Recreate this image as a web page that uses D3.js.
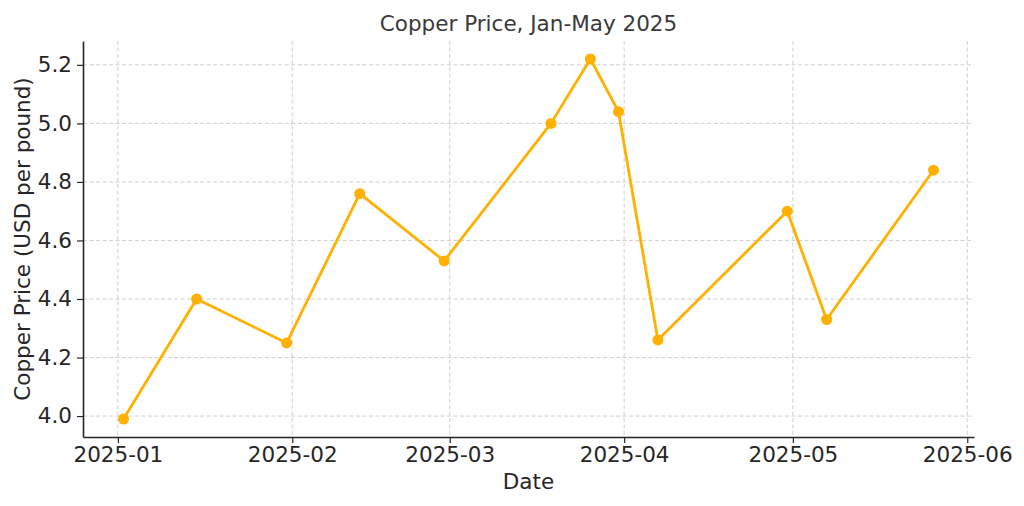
<!DOCTYPE html>
<html>
<head>
<meta charset="utf-8">
<script src="https://cdn.jsdelivr.net/npm/d3@7"></script>
<style>
  html, body { margin: 0; padding: 0; background: #fff; }
  svg { display: block; font-family: "DejaVu Sans", sans-serif; }
</style>
</head>
<body>
<div id="chart"></div>
<script>
// The data
var dates = ["2025-01-02", "2025-01-15", "2025-01-31", "2025-02-13", "2025-02-28", "2025-03-19",
             "2025-03-26", "2025-03-31", "2025-04-07", "2025-04-30", "2025-05-07", "2025-05-26"];
var prices = [3.99, 4.40, 4.25, 4.76, 4.53, 5.00, 5.22, 5.04, 4.26, 4.70, 4.33, 4.84];
var yTicks = [4.0, 4.2, 4.4, 4.6, 4.8, 5.0, 5.2];

var titleText = "Copper Price, Jan-May 2025";
var xLabelText = "Date";
var yLabelText = "Copper Price (USD per pound)";

// Chart size and margins
var width = 1024;
var height = 506;
var margin = { top: 41, right: 50, bottom: 69, left: 83 };
var innerWidth = width - margin.left - margin.right;
var innerHeight = height - margin.top - margin.bottom;

var lineColor = "#ffb000";
var textColor = "#262626";

var parseDate = d3.utcParse("%Y-%m-%d");
var points = dates.map(function (d, i) { return { date: parseDate(d), price: prices[i] }; });

// Domains padded by 5% like the original plot
var xExtent = d3.extent(points, d => d.date);
var xPad = (xExtent[1] - xExtent[0]) * 0.05;
var yExtent = d3.extent(points, d => d.price);
var yPad = (yExtent[1] - yExtent[0]) * 0.05;

var x = d3.scaleUtc()
  .domain([new Date(+xExtent[0] - xPad), new Date(+xExtent[1] + xPad)])
  .range([0, innerWidth]);

var y = d3.scaleLinear()
  .domain([yExtent[0] - yPad, yExtent[1] + yPad])
  .range([innerHeight, 0]);

var svg = d3.select("#chart")
  .append("svg")
  .attr("width", width)
  .attr("height", height);

var g = svg.append("g")
  .attr("transform", `translate(${margin.left}, ${margin.top})`);

var monthTicks = d3.utcMonth.range(d3.utcMonth.ceil(x.domain()[0]), x.domain()[1]);

// Grid lines
g.append("g")
  .selectAll("line")
  .data(monthTicks)
  .join("line")
  .attr("x1", d => x(d)).attr("x2", d => x(d))
  .attr("y1", 0).attr("y2", innerHeight)
  .attr("stroke", "#cfcfcf")
  .attr("stroke-width", 1)
  .attr("stroke-dasharray", "4,2.5");

g.append("g")
  .selectAll("line")
  .data(yTicks)
  .join("line")
  .attr("x1", 0).attr("x2", innerWidth)
  .attr("y1", d => y(d)).attr("y2", d => y(d))
  .attr("stroke", "#cfcfcf")
  .attr("stroke-width", 1)
  .attr("stroke-dasharray", "4,2.5");

// Axes
var xAxis = g.append("g")
  .attr("transform", `translate(0, ${innerHeight})`)
  .call(d3.axisBottom(x)
    .tickValues(monthTicks)
    .tickFormat(d3.utcFormat("%Y-%m"))
    .tickSize(6)
    .tickPadding(4)
    .tickSizeOuter(0));

var yAxis = g.append("g")
  .call(d3.axisLeft(y)
    .tickValues(yTicks)
    .tickFormat(d3.format(".1f"))
    .tickSize(6)
    .tickPadding(5)
    .tickSizeOuter(0));

[xAxis, yAxis].forEach(function (ax) {
  ax.select(".domain").attr("stroke", textColor).attr("stroke-width", 1.6);
  ax.selectAll(".tick line").attr("stroke", textColor).attr("stroke-width", 1.2);
  ax.selectAll(".tick text")
    .attr("fill", textColor)
    .style("font-size", "21.5px")
    .style("font-family", "DejaVu Sans, sans-serif");
});

// The price line and markers
var line = d3.line()
  .x(d => x(d.date))
  .y(d => y(d.price));

g.append("path")
  .datum(points)
  .attr("fill", "none")
  .attr("stroke", lineColor)
  .attr("stroke-width", 2.8)
  .attr("stroke-linejoin", "round")
  .attr("d", line);

g.append("g")
  .selectAll("circle")
  .data(points)
  .join("circle")
  .attr("cx", d => x(d.date))
  .attr("cy", d => y(d.price))
  .attr("r", 5.5)
  .attr("fill", lineColor);

// Title and axis labels
svg.append("text")
  .attr("x", margin.left + innerWidth / 2)
  .attr("y", 31)
  .attr("text-anchor", "middle")
  .attr("fill", "#3a3a3a")
  .style("font-size", "21.5px")
  .text(titleText);

svg.append("text")
  .attr("x", margin.left + innerWidth / 2)
  .attr("y", 489)
  .attr("text-anchor", "middle")
  .attr("fill", textColor)
  .style("font-size", "21.5px")
  .text(xLabelText);

svg.append("text")
  .attr("transform", "rotate(-90)")
  .attr("x", -(margin.top + innerHeight / 2))
  .attr("y", 30)
  .attr("text-anchor", "middle")
  .attr("fill", textColor)
  .style("font-size", "21.5px")
  .text(yLabelText);
</script>
</body>
</html>
